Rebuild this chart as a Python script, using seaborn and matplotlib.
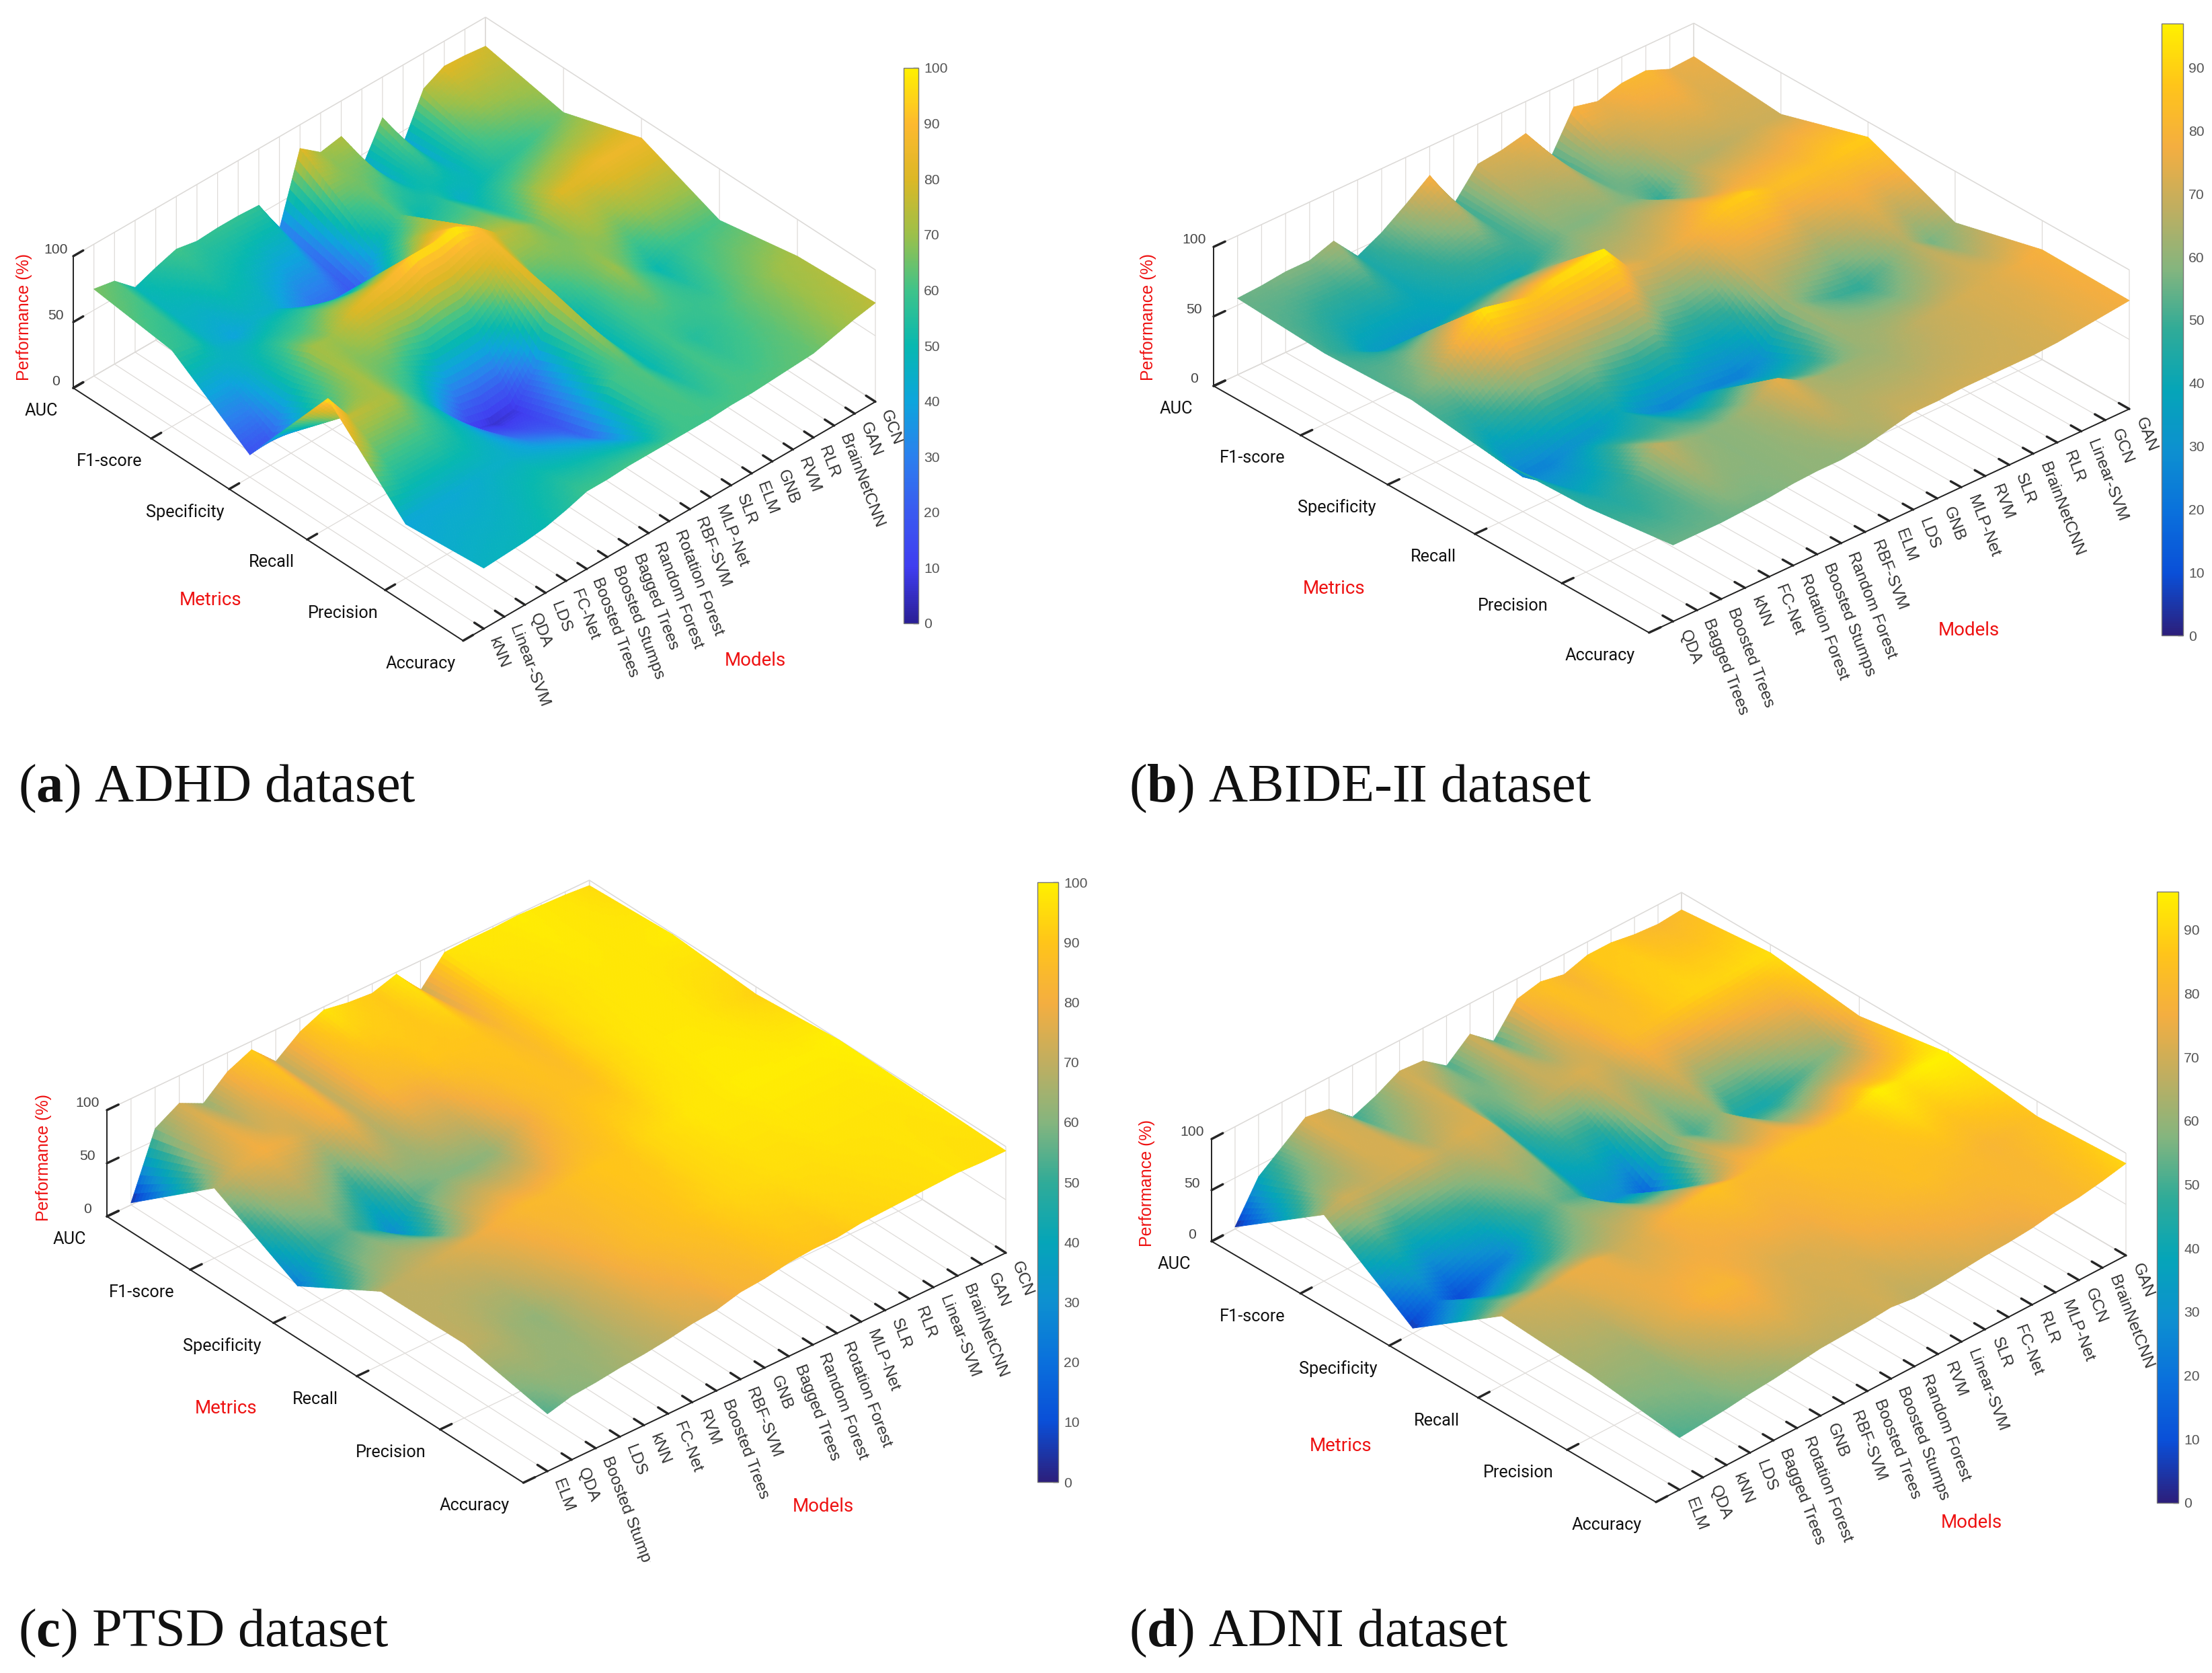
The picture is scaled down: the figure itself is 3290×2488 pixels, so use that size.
"""Four 3D performance surfaces: metrics x models, one panel per dataset."""

import numpy as np
import matplotlib
matplotlib.use("Agg")
import matplotlib.pyplot as plt
from matplotlib.cm import ScalarMappable
from matplotlib.colors import Normalize
from matplotlib.transforms import Bbox
from mpl_toolkits.mplot3d import proj3d
import seaborn as sns

W, H = 3291, 2488

metrics = ["AUC", "F1-score", "Specificity", "Recall", "Precision", "Accuracy"]

models_a = ["kNN", "Linear-SVM", "QDA", "LDS", "FC-Net", "Boosted Trees", "Boosted Stumps",
            "Bagged Trees", "Random Forest", "Rotation Forest", "RBF-SVM", "MLP-Net", "SLR",
            "ELM", "GNB", "RVM", "RLR", "BrainNetCNN", "GAN", "GCN"]
models_b = ["QDA", "Bagged Trees", "Boosted Trees", "kNN", "FC-Net", "Rotation Forest",
            "Boosted Stumps", "Random Forest", "RBF-SVM", "ELM", "LDS", "GNB", "MLP-Net", "RVM",
            "SLR", "BrainNetCNN", "RLR", "Linear-SVM", "GCN", "GAN"]
models_c = ["ELM", "QDA", "Boosted Stumps", "LDS", "kNN", "FC-Net", "RVM", "Boosted Trees",
            "RBF-SVM", "GNB", "Bagged Trees", "Random Forest", "Rotation Forest", "MLP-Net",
            "SLR", "RLR", "Linear-SVM", "BrainNetCNN", "GAN", "GCN"]
models_d = ["ELM", "QDA", "kNN", "LDS", "Bagged Trees", "Rotation Forest", "GNB", "RBF-SVM",
            "Boosted Trees", "Boosted Stumps", "Random Forest", "RVM", "Linear-SVM", "SLR",
            "FC-Net", "RLR", "MLP-Net", "GCN", "BrainNetCNN", "GAN"]

# one row per metric, one column per model
adhd = [
    [66, 63, 49, 55, 60, 57, 58, 58, 57, 30, 82, 70, 73, 40, 69, 40, 73, 81, 80, 78],
    [58, 55, 45, 40, 45, 44, 35, 26, 25, 18, 45, 61, 50, 55, 45, 50, 55, 58, 62, 66],
    [17, 20, 50, 71, 70, 80, 85, 90, 97, 97, 99, 90, 76, 72, 65, 80, 82, 85, 85, 85],
    [98, 76, 74, 72, 62, 48, 29, 11, 6, 8, 30, 78, 48, 60, 70, 60, 50, 58, 60, 61],
    [41, 42, 42, 43, 45, 45, 42, 38, 33, 25, 60, 62, 50, 60, 55, 58, 62, 66, 70, 72],
    [46, 47, 48, 50, 54, 59, 59, 60, 60, 60, 60, 60, 61, 61, 62, 63, 64, 68, 72, 75],
]
abide = [
    [55, 56, 58, 58, 64, 45, 54, 66, 79, 50, 71, 73, 77, 50, 80, 76, 81, 82, 75, 76],
    [51, 45, 35, 33, 32, 37, 40, 42, 41, 50, 58, 58, 60, 57, 48, 65, 66, 68, 70, 70],
    [53, 61, 80, 95, 91, 87, 92, 94, 97, 76, 72, 75, 80, 88, 90, 84, 85, 85, 88, 89],
    [45, 25, 25, 30, 33, 40, 30, 25, 27, 25, 24, 30, 62, 55, 50, 48, 55, 66, 56, 63],
    [47, 45, 50, 68, 62, 59, 60, 65, 75, 65, 62, 62, 62, 65, 68, 70, 72, 73, 76, 79],
    [55, 55, 55, 56, 57, 59, 60, 60, 62, 66, 70, 70, 71, 71, 71, 71, 72, 74, 76, 78],
]
ptsd = [
    [2, 61, 74, 63, 82, 92, 70, 87, 97, 93, 91, 98, 72, 97, 98, 98, 99, 98, 97, 95],
    [66, 75, 80, 78, 72, 82, 70, 84, 85, 90, 90, 90, 85, 93, 96, 97, 98, 98, 98, 99],
    [24, 50, 55, 45, 28, 55, 60, 60, 62, 75, 85, 88, 88, 94, 97, 98, 98, 97, 95, 93],
    [69, 70, 72, 75, 78, 82, 85, 85, 88, 90, 90, 94, 96, 98, 98, 99, 99, 99, 99, 100],
    [70, 68, 64, 62, 68, 74, 80, 85, 87, 89, 92, 94, 95, 96, 96, 97, 97, 97, 97, 98],
    [54, 60, 62, 65, 67, 70, 74, 76, 82, 84, 88, 90, 90, 93, 94, 95, 96, 97, 96, 96],
]
adni = [
    [2, 39, 56, 73, 69, 49, 58, 70, 68, 51, 70, 51, 80, 85, 80, 87, 87, 83, 81, 83],
    [65, 70, 68, 70, 72, 68, 72, 72, 45, 62, 68, 72, 70, 82, 85, 88, 90, 90, 91, 92],
    [5, 20, 8, 18, 25, 45, 55, 50, 30, 27, 15, 60, 50, 60, 42, 42, 48, 55, 60, 81],
    [68, 70, 72, 75, 75, 70, 72, 78, 82, 85, 82, 82, 85, 85, 85, 88, 96, 93, 96, 96],
    [62, 62, 62, 70, 75, 80, 80, 75, 72, 72, 74, 78, 80, 82, 84, 83, 82, 80, 82, 85],
    [51, 53, 55, 58, 60, 63, 66, 67, 68, 70, 67, 68, 70, 72, 73, 75, 79, 81, 85, 90],
]

# colour stops every tenth of the bar
colors_a = ["#2a1f96", "#3f3df0", "#3a5af0", "#2b80ee", "#0da5dc", "#07b8b0",
            "#3fc38a", "#9cc04a", "#dcb826", "#fdb92f", "#fff000"]
colors_rest = ["#2c1f7c", "#0a4fd8", "#0a70dc", "#0d90d0", "#05a5b8", "#30ab98",
               "#85b57e", "#c0ae60", "#f4ae40", "#ffc41a", "#fff000"]

# metric label centres relative to their ticks, in pixels
metric_dx = [-56, -72, -76, -62, -73, -73]
metric_dy = 34

panels = [
    dict(z=adhd, models=models_a, colors=colors_a, vmax=100, elev=37.8, azim=-133.4, box=0.294,
         left=(109, 577), right=(1302, 598), cbar=(1344, 101, 1366, 927), ticks=range(0, 101, 10),
         letter="a", name="ADHD dataset", cap=(27, 1192), dx_scale=0.86, clip=None,
         xl=(313, 892), ml=(1123, 982), yl=(36, 472)),
    dict(z=abide, models=models_b, colors=colors_rest, vmax=97, elev=30.9, azim=-132.2, box=0.25,
         left=(1805, 574), right=(3167, 611), cbar=(3215, 35, 3247, 945), ticks=range(0, 91, 10),
         letter="b", name="ABIDE-II dataset", cap=(1679, 1192), dx_scale=1.0, clip=1068,
         xl=(1984, 875), ml=(2928, 938), yl=(1708, 472)),
    dict(z=ptsd, models=models_c, colors=colors_rest, vmax=100, elev=33.5, azim=-130.8, box=0.2,
         left=(159, 1809), right=(1496, 1864), cbar=(1543, 1312, 1574, 2204), ticks=range(0, 101, 10),
         letter="c", name="PTSD dataset", cap=(27, 2448), dx_scale=1.0, clip=2323,
         xl=(336, 2095), ml=(1224, 2240), yl=(65, 1721)),
    dict(z=adni, models=models_d, colors=colors_rest, vmax=96, elev=33.7, azim=-133.4, box=0.19,
         left=(1802, 1846), right=(3162, 1868), cbar=(3208, 1326, 3240, 2235), ticks=range(0, 91, 10),
         letter="d", name="ADNI dataset", cap=(1679, 2448), dx_scale=1.0, clip=None,
         xl=(1994, 2151), ml=(2932, 2265), yl=(1706, 1759)),
]


def refine(z, nk=24, nj=8):
    """Finer mesh between the table values, so the facets shade smoothly."""
    z = np.asarray(z, float)
    ki, ji = np.arange(z.shape[0]), np.arange(1, z.shape[1] + 1)
    kf = np.linspace(0, 5, 5 * nk + 1)
    jf = np.linspace(1, 20, 19 * nj + 1)
    by_col = np.array([np.interp(jf, ji, row) for row in z])
    zf = np.array([np.interp(kf, ki, col) for col in by_col.T]).T
    x, k = np.meshgrid(jf, kf)
    return x, 5 - k, zf


def corner_px(ax, x, y, z):
    ax.apply_aspect()
    px, py, _ = proj3d.proj_transform(x, y, z, ax.get_proj())
    dx, dy = ax.transData.transform((px, py))
    return dx, H - dy


def fit_axes(ax, p):
    # scale and shift the axes so the floor corners land where they belong
    side = 0.9 * H
    ax.set_position([0.1, 0.05, side / W, side / H])
    ax.set_box_aspect((1, 1, p["box"]), zoom=1)
    lx, _ = corner_px(ax, 0, 5, 0)
    rx, _ = corner_px(ax, 20, 0, 0)
    ax.set_box_aspect((1, 1, p["box"]), zoom=(p["right"][0] - p["left"][0]) / (rx - lx))
    lx, ly = corner_px(ax, 0, 5, 0)
    x0 = 0.1 + (p["left"][0] - lx) / W
    y0 = 0.05 - (p["left"][1] - ly) / H
    ax.set_position([x0, y0, side / W, side / H])


def draw_panel(fig, p):
    ax = fig.add_axes([0.1, 0.05, 0.9 * H / W, 0.9], projection="3d")
    ax.set_proj_type("ortho")
    ax.view_init(elev=p["elev"], azim=p["azim"])
    ax.set_facecolor("none")
    ax.set_xlim(0, 20, view_margin=0)
    ax.set_ylim(0, 5, view_margin=0)
    ax.set_zlim(0, 100, view_margin=0)

    cmap = sns.blend_palette(p["colors"], n_colors=256, as_cmap=True)
    x, y, z = refine(p["z"])
    norm = Normalize(0, p["vmax"])
    cell = (z[:-1, :-1] + z[1:, :-1] + z[:-1, 1:] + z[1:, 1:]) / 4
    ax.plot_surface(x, y, z, rstride=1, cstride=1, facecolors=cmap(norm(cell)),
                    linewidth=0.3, antialiased=True, shade=False)

    ax.set_xticks(np.arange(1, 21), p["models"], rotation=-69, ha="left", va="center",
                  rotation_mode="anchor", fontsize=8.8, color="#333333",
                  fontfamily="Liberation Sans")
    ax.set_yticks(np.arange(5, -1, -1), [""] * 6)
    ax.set_zticks([0, 50, 100], ["0", "50", "100"], fontsize=7.6, color="#444444", va="bottom",
                  fontfamily="Liberation Sans")
    ax.tick_params(axis="x", pad=2)
    ax.tick_params(axis="z", pad=1)
    for axis in (ax.xaxis, ax.yaxis, ax.zaxis):
        axis.set_pane_color((1, 1, 1, 1))
        axis.pane.set_edgecolor("#dddddd")
        axis.pane.set_linewidth(0.5)
        axis._axinfo["grid"].update(color="#dedbd8", linewidth=0.45)
        axis._axinfo["tick"].update(inward_factor=0.0, outward_factor=0.3)
        axis.line.set_linewidth(0.7)
        axis.line.set_color("#222222")

    fit_axes(ax, p)

    for pos, name, dx in zip(np.arange(5, -1, -1), metrics, metric_dx):
        tx, ty = corner_px(ax, 0, pos, 0)
        fig.text((tx + dx * p["dx_scale"]) / W, 1 - (ty + metric_dy) / H, name, ha="center",
                 va="center", fontsize=9.1, color="#111111", fontfamily="Roboto")

    if p["clip"]:
        box = Bbox([[0, H - p["clip"]], [W, H]])
        for lab in ax.get_xticklabels():
            lab.set_clip_on(True)
            lab.set_clip_box(box)

    red = dict(color="#ee1111", fontfamily="Roboto", fontsize=10, ha="center", va="center")
    fig.text(p["xl"][0] / W, 1 - p["xl"][1] / H, "Metrics", **red)
    fig.text(p["ml"][0] / W, 1 - p["ml"][1] / H, "Models", **red)
    fig.text(p["yl"][0] / W, 1 - p["yl"][1] / H, "Performance (%)", rotation=90,
             **{**red, "fontsize": 9, "fontfamily": "Liberation Sans"})

    x0, y0, x1, y1 = p["cbar"]
    cax = fig.add_axes([x0 / W, 1 - y1 / H, (x1 - x0) / W, (y1 - y0) / H])
    sm = ScalarMappable(norm=norm, cmap=cmap)
    cb = fig.colorbar(sm, cax=cax, ticks=list(p["ticks"]))
    cb.outline.set_linewidth(0.5)
    cb.outline.set_edgecolor("#777777")
    cb.ax.tick_params(direction="in", length=3, width=0.5, color="#333333", labelsize=7.6,
                      labelcolor="#555555", pad=3)
    for t in cb.ax.get_yticklabels():
        t.set_fontfamily("Liberation Sans")

    fig.text(p["cap"][0] / W, 1 - p["cap"][1] / H, rf"($\mathbf{{{p['letter']}}}$) {p['name']}",
             fontsize=29, fontfamily="Liberation Serif", color="#111111", va="baseline")


def main():
    sns.set_theme(style="white", rc={"mathtext.fontset": "custom",
                                     "mathtext.rm": "Liberation Serif",
                                     "mathtext.bf": "Liberation Serif:bold"})
    fig = plt.figure(figsize=(W / 200, H / 200), dpi=200, facecolor="white")
    for p in panels:
        draw_panel(fig, p)
    fig.savefig("out.png", dpi=200)
    plt.close(fig)


if __name__ == "__main__":
    main()
